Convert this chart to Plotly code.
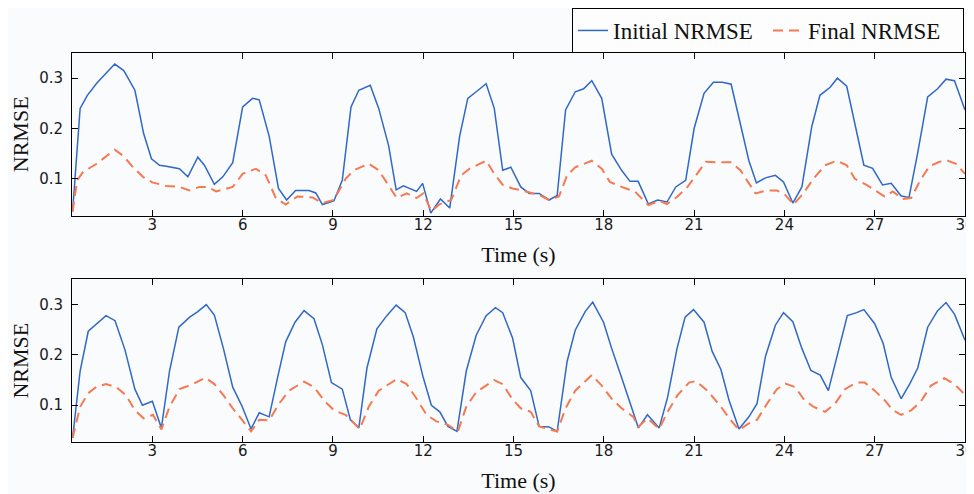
import plotly.graph_objects as go

# ---------------- data ----------------
top_t_initial = [0.35, 0.6, 0.84, 1.15, 1.75, 2.05, 2.42, 2.71, 2.97, 3.24, 3.46, 3.9, 4.18, 4.51, 4.73, 5.06, 5.34, 5.67,
                 6.0, 6.33, 6.55, 6.88, 7.19, 7.46, 7.76, 8.2, 8.43, 8.65, 9.03, 9.31, 9.6, 9.86, 10.24, 10.52, 10.85,
                 11.1, 11.34, 11.56, 11.78, 11.98, 12.25, 12.57, 12.88, 13.21, 13.48, 13.76, 14.09, 14.36, 14.64, 14.91,
                 15.24, 15.52, 15.85, 16.18, 16.45, 16.73, 17.05, 17.33, 17.6, 17.93, 18.26, 18.59, 18.87, 19.14, 19.48,
                 19.79, 20.1, 20.39, 20.72, 21.0, 21.33, 21.64, 21.94, 22.23, 22.54, 22.82, 23.07, 23.37, 23.7, 23.97,
                 24.28, 24.58, 24.91, 25.18, 25.52, 25.76, 26.07, 26.37, 26.64, 26.93, 27.26, 27.55, 27.88, 28.14, 28.43,
                 28.76, 29.09, 29.37, 29.65, 30.0]
top_initial = [0.035, 0.24, 0.266, 0.29, 0.328, 0.315, 0.276, 0.19, 0.14, 0.127, 0.125, 0.12, 0.104, 0.143, 0.127, 0.089,
               0.104, 0.132, 0.243, 0.26, 0.257, 0.185, 0.081, 0.058, 0.077, 0.077, 0.072, 0.049, 0.056, 0.097, 0.243,
               0.276, 0.286, 0.24, 0.166, 0.078, 0.086, 0.081, 0.075, 0.091, 0.032, 0.06, 0.042, 0.185, 0.26, 0.273,
               0.289, 0.24, 0.117, 0.123, 0.084, 0.071, 0.071, 0.058, 0.067, 0.237, 0.273, 0.279, 0.295, 0.26, 0.149,
               0.117, 0.095, 0.095, 0.05, 0.058, 0.054, 0.084, 0.097, 0.2, 0.27, 0.292, 0.292, 0.288, 0.211, 0.136,
               0.092, 0.102, 0.107, 0.094, 0.052, 0.084, 0.204, 0.266, 0.282, 0.3, 0.284, 0.198, 0.127, 0.121, 0.088,
               0.091, 0.066, 0.063, 0.152, 0.263, 0.279, 0.298, 0.295, 0.237]

top_t_final = [0.35, 0.5, 0.7, 1.15, 1.75, 2.03, 2.36, 2.69, 3.0, 3.46, 3.9, 4.23, 4.57, 4.84, 5.12, 5.67, 6.0, 6.44, 6.77,
               7.1, 7.43, 7.82, 8.32, 8.65, 9.03, 9.42, 9.69, 10.19, 10.52, 10.85, 11.12, 11.45, 11.78, 12.0, 12.27,
               12.55, 12.93, 13.26, 13.54, 14.09, 14.36, 14.64, 14.97, 15.41, 15.85, 16.18, 16.51, 16.78, 17.05, 17.6,
               17.93, 18.2, 18.59, 19.03, 19.48, 19.84, 20.1, 20.45, 20.78, 21.06, 21.39, 21.77, 22.21, 22.54, 22.82,
               23.04, 23.42, 23.75, 24.03, 24.3, 24.63, 24.96, 25.35, 25.74, 26.07, 26.34, 26.73, 27.0, 27.33, 27.6,
               27.93, 28.21, 28.54, 28.82, 29.15, 29.43, 29.7, 30.0]
top_final = [0.035, 0.097, 0.114, 0.13, 0.158, 0.146, 0.123, 0.104, 0.093, 0.086, 0.084, 0.077, 0.084, 0.084, 0.075,
             0.084, 0.11, 0.12, 0.107, 0.062, 0.049, 0.065, 0.063, 0.052, 0.058, 0.1, 0.117, 0.13, 0.117, 0.088, 0.062,
             0.071, 0.062, 0.071, 0.036, 0.05, 0.058, 0.107, 0.12, 0.136, 0.11, 0.088, 0.081, 0.075, 0.068, 0.058,
             0.065, 0.107, 0.123, 0.136, 0.12, 0.094, 0.084, 0.075, 0.048, 0.056, 0.05, 0.065, 0.084, 0.107, 0.134,
             0.133, 0.133, 0.117, 0.091, 0.071, 0.077, 0.077, 0.068, 0.049, 0.071, 0.1, 0.127, 0.136, 0.127, 0.1,
             0.088, 0.078, 0.065, 0.075, 0.06, 0.062, 0.1, 0.125, 0.134, 0.136, 0.13, 0.11]

bot_t_initial = [0.35, 0.6, 0.87, 1.15, 1.46, 1.76, 2.09, 2.42, 2.67, 3.0, 3.3, 3.57, 3.88, 4.24, 4.51, 4.79, 5.06, 5.36,
                 5.67, 5.98, 6.28, 6.55, 6.88, 7.16, 7.43, 7.74, 8.04, 8.37, 8.65, 8.95, 9.31, 9.58, 9.86, 10.13, 10.46,
                 10.79, 11.1, 11.4, 11.67, 12.0, 12.27, 12.55, 12.82, 13.12, 13.43, 13.76, 14.09, 14.4, 14.64, 14.97,
                 15.24, 15.57, 15.85, 16.18, 16.45, 16.78, 17.05, 17.38, 17.63, 17.99, 18.26, 18.59, 18.87, 19.15, 19.45,
                 19.84, 20.12, 20.43, 20.7, 20.98, 21.33, 21.6, 21.89, 22.16, 22.49, 22.82, 23.09, 23.37, 23.7, 23.97,
                 24.28, 24.58, 24.88, 25.19, 25.46, 25.79, 26.09, 26.4, 26.64, 27.0, 27.28, 27.55, 27.88, 28.16, 28.43,
                 28.76, 29.09, 29.37, 29.65, 30.0]
bot_initial = [0.035, 0.168, 0.247, 0.262, 0.278, 0.268, 0.21, 0.132, 0.1, 0.108, 0.055, 0.168, 0.255, 0.275, 0.286, 0.3,
               0.279, 0.213, 0.136, 0.098, 0.053, 0.085, 0.077, 0.155, 0.226, 0.265, 0.288, 0.272, 0.22, 0.145, 0.132,
               0.071, 0.055, 0.174, 0.252, 0.278, 0.299, 0.284, 0.236, 0.155, 0.1, 0.087, 0.058, 0.048, 0.168, 0.239,
               0.278, 0.294, 0.284, 0.233, 0.155, 0.129, 0.058, 0.057, 0.048, 0.187, 0.249, 0.286, 0.305, 0.265, 0.213,
               0.155, 0.106, 0.055, 0.081, 0.055, 0.116, 0.212, 0.275, 0.29, 0.265, 0.207, 0.171, 0.11, 0.053, 0.077,
               0.103, 0.197, 0.259, 0.284, 0.266, 0.213, 0.169, 0.16, 0.129, 0.21, 0.278, 0.284, 0.29, 0.262, 0.223,
               0.155, 0.113, 0.142, 0.174, 0.255, 0.288, 0.304, 0.281, 0.229]

bot_t_final = [0.35, 0.6, 0.87, 1.15, 1.46, 1.81, 2.12, 2.42, 2.71, 3.02, 3.3, 3.57, 3.9, 4.35, 4.76, 5.06, 5.36, 5.67,
               5.98, 6.28, 6.55, 6.88, 7.21, 7.54, 8.04, 8.37, 8.7, 9.03, 9.42, 9.64, 9.89, 10.19, 10.52, 11.12, 11.45,
               11.78, 12.11, 12.44, 12.82, 13.15, 13.43, 13.76, 14.36, 14.64, 14.95, 15.24, 15.57, 15.85, 16.18, 16.45,
               16.73, 17.05, 17.6, 17.93, 18.26, 18.59, 18.98, 19.14, 19.45, 19.84, 20.12, 20.45, 20.83, 21.06, 21.44,
               21.89, 22.21, 22.49, 22.82, 23.09, 23.42, 23.75, 24.03, 24.36, 24.63, 24.96, 25.35, 25.68, 26.01, 26.4,
               26.67, 27.0, 27.33, 27.61, 27.88, 28.21, 28.54, 28.87, 29.31, 29.65, 30.0]
bot_final = [0.035, 0.097, 0.124, 0.137, 0.142, 0.136, 0.12, 0.09, 0.074, 0.081, 0.052, 0.097, 0.132, 0.142, 0.155,
             0.142, 0.12, 0.094, 0.071, 0.048, 0.071, 0.07, 0.103, 0.129, 0.147, 0.136, 0.11, 0.09, 0.081, 0.068, 0.053,
             0.097, 0.129, 0.152, 0.142, 0.113, 0.081, 0.068, 0.061, 0.048, 0.097, 0.126, 0.15, 0.142, 0.113, 0.094,
             0.087, 0.058, 0.053, 0.048, 0.094, 0.129, 0.16, 0.139, 0.113, 0.094, 0.077, 0.057, 0.074, 0.053, 0.087,
             0.12, 0.145, 0.148, 0.129, 0.097, 0.071, 0.051, 0.064, 0.071, 0.103, 0.132, 0.143, 0.136, 0.113, 0.097,
             0.087, 0.103, 0.132, 0.145, 0.145, 0.129, 0.11, 0.09, 0.081, 0.09, 0.108, 0.139, 0.154, 0.142, 0.121]

x_ticks = [3, 6, 9, 12, 15, 18, 21, 24, 27, 30]
y_ticks = [0.1, 0.2, 0.3]
y_tick_text = ["0.1", "0.2", "0.3"]

# ---------------- styling ----------------
BLUE = "#2f68c6"
ORANGE = "#f47a52"
BG = "#fafbfd"
SERIF = "Liberation Serif, Times New Roman, serif"
SANS = "DejaVu Sans, Verdana, sans-serif"

# the page body has an 8px margin, so the figure is drawn 8px in from the window's top-left
W, H = 966, 486

fig = go.Figure()
fig.add_trace(go.Scatter(x=top_t_initial, y=top_initial, mode="lines", name="Initial NRMSE",
                         line=dict(color=BLUE, width=1.5), xaxis="x", yaxis="y"))
fig.add_trace(go.Scatter(x=top_t_final, y=top_final, mode="lines", name="Final NRMSE",
                         line=dict(color=ORANGE, width=2, dash="10px,6px"), xaxis="x", yaxis="y"))
fig.add_trace(go.Scatter(x=bot_t_initial, y=bot_initial, mode="lines", name="Initial NRMSE", showlegend=False,
                         line=dict(color=BLUE, width=1.5), xaxis="x2", yaxis="y2"))
fig.add_trace(go.Scatter(x=bot_t_final, y=bot_final, mode="lines", name="Final NRMSE", showlegend=False,
                         line=dict(color=ORANGE, width=2, dash="10px,6px"), xaxis="x2", yaxis="y2"))

xcommon = dict(range=[0.33, 30], tickvals=x_ticks, ticks="inside", ticklen=6, tickcolor="black",
               showline=True, linecolor="black", linewidth=1, mirror="ticks", showgrid=False, zeroline=False,
               automargin=False, ticklabelstandoff=-5, ticklabeloverflow="allow",
               tickfont=dict(family=SANS, size=15, color="#1a1a1a"),
               title=dict(text="Time (s)", font=dict(family=SERIF, size=22, color="#111"), standoff=13))
ycommon = dict(range=[0.027, 0.35], tickvals=y_ticks, ticktext=y_tick_text, ticks="inside", ticklen=6,
               tickcolor="black", showline=True, linecolor="black", linewidth=1, mirror="ticks", showgrid=False,
               zeroline=False, automargin=False, ticklabelstandoff=5,
               tickfont=dict(family=SANS, size=15, color="#1a1a1a"),
               title=dict(text="NRMSE", font=dict(family=SERIF, size=22, color="#111"), standoff=6))

fig.update_layout(
    width=W, height=H,
    margin=dict(l=64, r=9, t=37, b=52),
    paper_bgcolor=BG, plot_bgcolor=BG,
    xaxis=dict(domain=[0, 1], anchor="y", **xcommon),
    yaxis=dict(domain=[0.582, 1], anchor="x", **ycommon),
    xaxis2=dict(domain=[0, 1], anchor="y2", **xcommon),
    yaxis2=dict(domain=[0, 0.418], anchor="x2", **ycommon),
    legend=dict(orientation="h", xref="container", yref="container",
                x=956 / W, xanchor="right", y=1.0, yanchor="top",
                bgcolor="#fdfdfd", bordercolor="black", borderwidth=1,
                font=dict(family=SERIF, size=23, color="#111"),
                entrywidthmode="pixels", entrywidth=150, itemwidth=30,
                tracegroupgap=0),
    showlegend=True,
)

fig.write_html("out.html")
